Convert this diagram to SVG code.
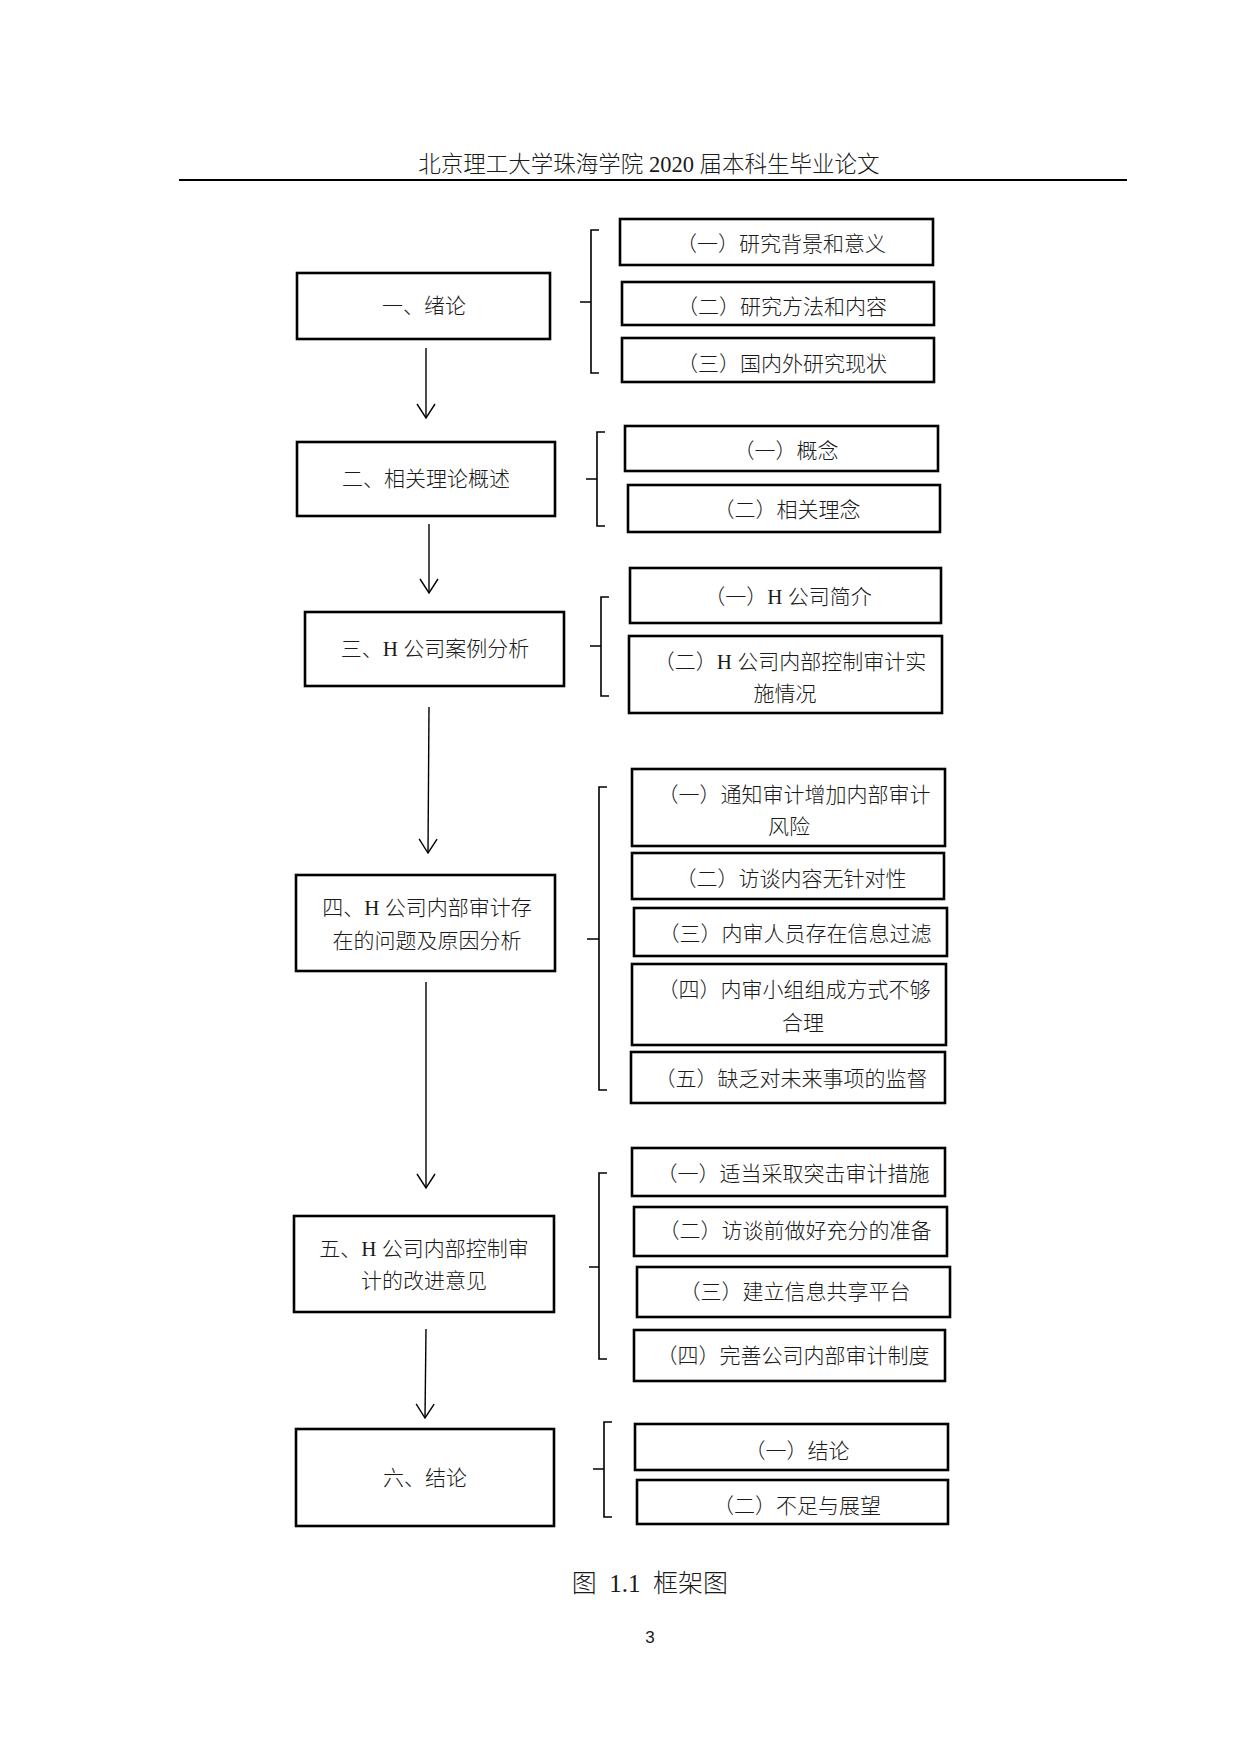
<svg xmlns="http://www.w3.org/2000/svg" width="1240" height="1754" viewBox="0 0 1240 1754">
<style>
text{font-family:"Liberation Serif","Noto Sans CJK SC",serif;font-size:21px;font-weight:300;fill:#1a1a1a;text-anchor:middle;dominant-baseline:central}
.box{fill:#fff;stroke:#000;stroke-width:2.6}
.con{fill:none;stroke:#000;stroke-width:1.4}
.br{fill:none;stroke:#000;stroke-width:1.6}
</style>
<defs>
<marker id="arr" markerUnits="userSpaceOnUse" markerWidth="20" markerHeight="22" viewBox="-16 -11 18 22" refX="0" refY="0" orient="auto">
<path d="M-14,-9 L0,0 L-14,9" fill="none" stroke="#000" stroke-width="1.4"/>
</marker>
</defs>
<rect width="1240" height="1754" fill="#fff"/>
<g id="header">
<text x="649" y="164" style="font-size:22.5px">北京理工大学珠海学院 2020 届本科生毕业论文</text>
<line x1="179" y1="180" x2="1127" y2="180" stroke="#000" stroke-width="2"/>
</g>
<g id="connectors">
<path class="con" d="M426,348 L426,418" marker-end="url(#arr)"/>
<path class="con" d="M429,524 L429,593" marker-end="url(#arr)"/>
<path class="con" d="M429,707 L428,853" marker-end="url(#arr)"/>
<path class="con" d="M426,982 L426,1188" marker-end="url(#arr)"/>
<path class="con" d="M426,1329 L425,1418" marker-end="url(#arr)"/>
<path class="br" d="M599,230 H591 V373 H599 M591,302 H580"/>
<path class="br" d="M605,432 H597 V526 H605 M597,479 H586"/>
<path class="br" d="M609,597 H601 V696 H609 M601,646 H590"/>
<path class="br" d="M607,787 H599 V1090 H607 M599,939 H587"/>
<path class="br" d="M607,1173 H599 V1359 H607 M599,1267 H589"/>
<path class="br" d="M612,1422 H604 V1517 H612 M604,1469 H593"/>
</g>
<g id="n1"><rect class="box" x="297" y="273" width="253" height="66"/><text x="424" y="306">一、绪论</text></g>
<g id="n1a"><rect class="box" x="620" y="219" width="313" height="46"/><text x="781" y="244">（一）研究背景和意义</text></g>
<g id="n1b"><rect class="box" x="622" y="282" width="312" height="43"/><text x="782" y="307">（二）研究方法和内容</text></g>
<g id="n1c"><rect class="box" x="622" y="338" width="312" height="44"/><text x="782" y="364">（三）国内外研究现状</text></g>

<g id="n2"><rect class="box" x="297" y="442" width="258" height="74"/><text x="426" y="479">二、相关理论概述</text></g>
<g id="n2a"><rect class="box" x="625" y="426" width="313" height="45"/><text x="786" y="451">（一）概念</text></g>
<g id="n2b"><rect class="box" x="628" y="485" width="312" height="47"/><text x="787" y="510">（二）相关理念</text></g>

<g id="n3"><rect class="box" x="305" y="612" width="259" height="74"/><text x="435" y="649">三、H 公司案例分析</text></g>
<g id="n3a"><rect class="box" x="630" y="568" width="311" height="55"/><text x="788" y="597">（一）H 公司简介</text></g>
<g id="n3b"><rect class="box" x="629" y="636" width="313" height="77"/><text x="790" y="662">（二）H 公司内部控制审计实</text><text x="785" y="694">施情况</text></g>

<g id="n4"><rect class="box" x="296" y="875" width="259" height="96"/><text x="427" y="908">四、H 公司内部审计存</text><text x="427" y="941">在的问题及原因分析</text></g>
<g id="n4a"><rect class="box" x="632" y="769" width="313" height="77"/><text x="794" y="795">（一）通知审计增加内部审计</text><text x="789" y="827">风险</text></g>
<g id="n4b"><rect class="box" x="632" y="853" width="312" height="46"/><text x="791" y="879">（二）访谈内容无针对性</text></g>
<g id="n4c"><rect class="box" x="634" y="908" width="313" height="48"/><text x="795" y="934">（三）内审人员存在信息过滤</text></g>
<g id="n4d"><rect class="box" x="632" y="964" width="314" height="81"/><text x="794" y="990">（四）内审小组组成方式不够</text><text x="803" y="1023">合理</text></g>
<g id="n4e"><rect class="box" x="631" y="1052" width="314" height="51"/><text x="791" y="1079">（五）缺乏对未来事项的监督</text></g>

<g id="n5"><rect class="box" x="294" y="1216" width="260" height="96"/><text x="424" y="1249">五、H 公司内部控制审</text><text x="424" y="1281">计的改进意见</text></g>
<g id="n5a"><rect class="box" x="632" y="1148" width="313" height="48"/><text x="793" y="1174">（一）适当采取突击审计措施</text></g>
<g id="n5b"><rect class="box" x="634" y="1207" width="313" height="49"/><text x="795" y="1231">（二）访谈前做好充分的准备</text></g>
<g id="n5c"><rect class="box" x="637" y="1267" width="313" height="50"/><text x="795" y="1292">（三）建立信息共享平台</text></g>
<g id="n5d"><rect class="box" x="634" y="1330" width="311" height="51"/><text x="793" y="1356">（四）完善公司内部审计制度</text></g>

<g id="n6"><rect class="box" x="296" y="1429" width="258" height="97"/><text x="425" y="1478">六、结论</text></g>
<g id="n6a"><rect class="box" x="635" y="1424" width="313" height="46"/><text x="797" y="1451">（一）结论</text></g>
<g id="n6b"><rect class="box" x="637" y="1480" width="311" height="44"/><text x="797" y="1506">（二）不足与展望</text></g>

<g id="caption"><text x="650" y="1583" style="font-size:25px" xml:space="preserve">图  1.1  框架图</text></g>
<g id="page"><text x="650" y="1643" style="font-family:'Liberation Sans',sans-serif;font-size:17px;font-weight:400;dominant-baseline:auto">3</text></g>
</svg>
